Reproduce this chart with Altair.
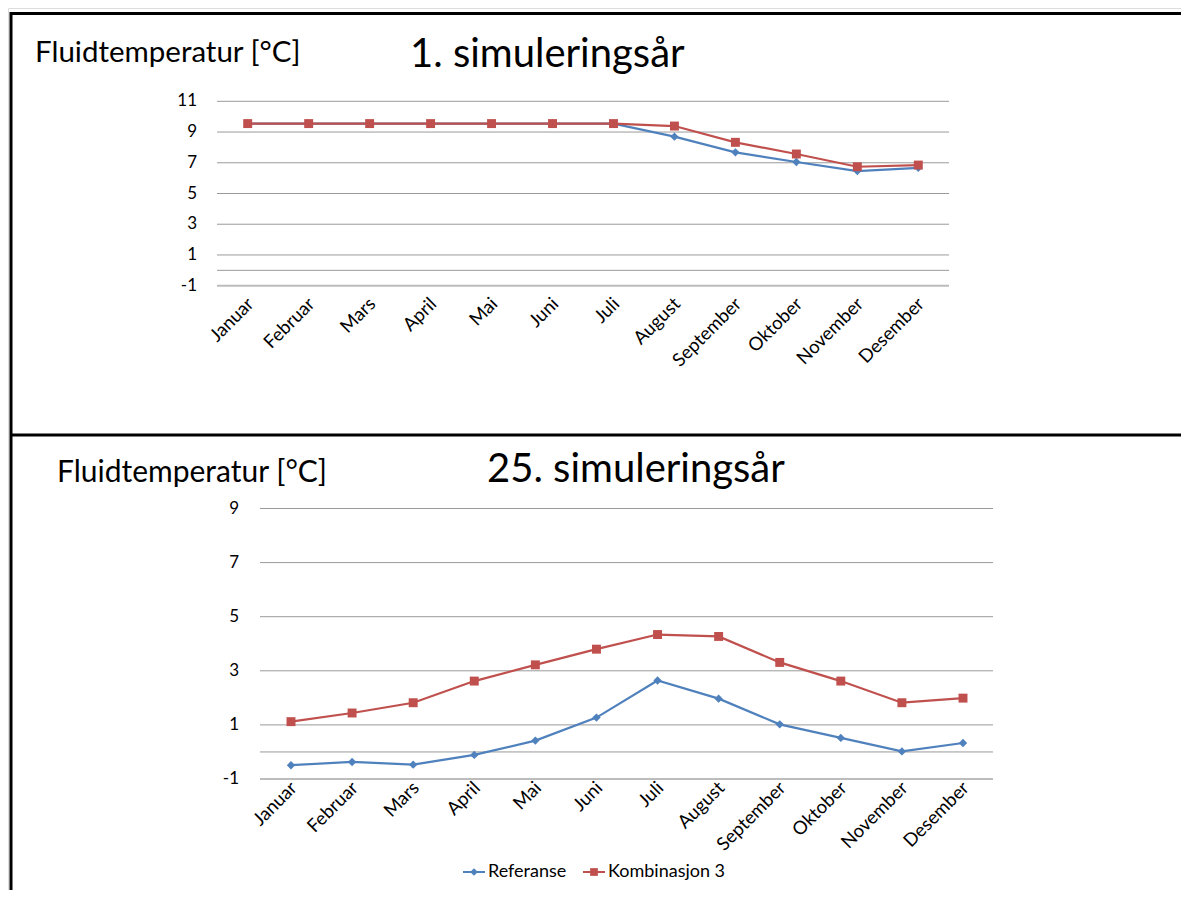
import altair as alt
import pandas as pd

# ---------------- data ----------------
months = ["Januar", "Februar", "Mars", "April", "Mai", "Juni", "Juli",
          "August", "September", "Oktober", "November", "Desember"]
series = ["Referanse", "Kombinasjon 3"]
series_colors = ["#4F81BD", "#C0504D"]
series_shapes = ["diamond", "square"]

year1_referanse = [9.55, 9.55, 9.55, 9.55, 9.55, 9.55, 9.55, 8.70, 7.68, 7.05, 6.46, 6.67]
year1_kombinasjon = [9.55, 9.55, 9.55, 9.55, 9.55, 9.55, 9.55, 9.39, 8.33, 7.57, 6.74, 6.85]
year25_referanse = [-0.49, -0.37, -0.47, -0.11, 0.42, 1.27, 2.64, 1.97, 1.02, 0.52, 0.02, 0.33]
year25_kombinasjon = [1.12, 1.44, 1.82, 2.62, 3.22, 3.80, 4.34, 4.27, 3.31, 2.62, 1.82, 1.99]

ticks_year1 = [-1, 1, 3, 5, 7, 9, 11]
ticks_year25 = [-1, 1, 3, 5, 7, 9]
titles = ["1. simuleringsår", "25. simuleringsår"]
y_title = "Fluidtemperatur [°C]"

FONT = "Lato"


def long_df(ref, komb):
    rows = []
    for s, vals in zip(series, [ref, komb]):
        for m, v in zip(months, vals):
            rows.append({"month": m, "series": s, "value": v})
    return pd.DataFrame(rows)


def panel(ref, komb, ticks, x_range, y_domain, y_range, grid_x, label_x,
          month_y, month_dx, title, title_xy, ytitle_xy, ytitle_size):
    xs = alt.Scale(type="point", domain=months, range=x_range, padding=0)
    ys = alt.Scale(domain=y_domain, range=y_range, nice=False, zero=False)
    df = long_df(ref, komb)
    tick_df = pd.DataFrame({"v": ticks, "label": [str(t) for t in ticks]})
    grid_df = pd.DataFrame({"v": [t for t in ticks if t != y_domain[0]]})
    base_df = pd.DataFrame({"v": [y_domain[0]]})
    zero_df = pd.DataFrame({"v": [0]})

    grid = alt.Chart(grid_df).mark_rule(color="#9a9a9a", strokeWidth=1).encode(
        y=alt.Y("v:Q", scale=ys, axis=None),
        x=alt.value(grid_x[0]), x2=alt.value(grid_x[1]))
    base = alt.Chart(base_df).mark_rule(color="#bcbcbc", strokeWidth=2).encode(
        y=alt.Y("v:Q", scale=ys, axis=None),
        x=alt.value(grid_x[0]), x2=alt.value(grid_x[1]))
    zero = alt.Chart(zero_df).mark_rule(color="#9a9a9a", strokeWidth=1).encode(
        y=alt.Y("v:Q", scale=ys, axis=None),
        x=alt.value(grid_x[0]), x2=alt.value(grid_x[1]))
    ylabels = alt.Chart(tick_df).mark_text(
        align="right", baseline="middle", font=FONT, fontSize=17, color="#000000"
    ).encode(y=alt.Y("v:Q", scale=ys, axis=None), x=alt.value(label_x), text="label:N")

    mlabels = alt.Chart(pd.DataFrame({"month": months})).mark_text(
        align="right", baseline="top", angle=315, dx=month_dx,
        font=FONT, fontSize=18.5, color="#000000"
    ).encode(x=alt.X("month:N", scale=xs, axis=None), y=alt.value(month_y), text="month:N")

    layers = [grid, base, zero, ylabels, mlabels]
    for s, c, sh in zip(series, series_colors, series_shapes):
        sdf = df[df["series"] == s]
        line = alt.Chart(sdf).mark_line(color=c, strokeWidth=2.2).encode(
            x=alt.X("month:N", scale=xs, axis=None, sort=months),
            y=alt.Y("value:Q", scale=ys, axis=None))
        pts = alt.Chart(sdf).mark_point(
            shape=sh, filled=True, color=c, opacity=1,
            size=70 if sh == "diamond" else 80
        ).encode(
            x=alt.X("month:N", scale=xs, axis=None, sort=months),
            y=alt.Y("value:Q", scale=ys, axis=None))
        layers += [line, pts]

    t = alt.Chart(pd.DataFrame({"t": [title]})).mark_text(
        align="left", baseline="alphabetic", font=FONT, fontSize=40, color="#000000"
    ).encode(x=alt.value(title_xy[0]), y=alt.value(title_xy[1]), text="t:N")
    yt = alt.Chart(pd.DataFrame({"t": [y_title]})).mark_text(
        align="left", baseline="alphabetic", font=FONT, fontSize=ytitle_size, color="#000000"
    ).encode(x=alt.value(ytitle_xy[0]), y=alt.value(ytitle_xy[1]), text="t:N")
    layers += [t, yt]
    return alt.layer(*layers)


top = panel(year1_referanse, year1_kombinasjon, ticks_year1,
            x_range=[239.7, 910.3], y_domain=[-1, 11], y_range=[277.7, 93.3],
            grid_x=[209, 941], label_x=189, month_y=283, month_dx=-5,
            title=titles[0], title_xy=(402, 59), ytitle_xy=(27, 54), ytitle_size=29.5)

bottom = panel(year25_referanse, year25_kombinasjon, ticks_year25,
               x_range=[283, 955], y_domain=[-1, 9], y_range=[771, 500.5],
               grid_x=[252, 985], label_x=231, month_y=767, month_dx=-5,
               title=titles[1], title_xy=(479, 474), ytitle_xy=(49, 474), ytitle_size=30)

# legend
leg_df = pd.DataFrame({"series": series})
lx = alt.Scale(type="point", domain=series, range=[466, 586], padding=0)
lc = alt.Scale(domain=series, range=series_colors)
lsh = alt.Scale(domain=series, range=series_shapes)
leg_line = alt.Chart(leg_df).mark_point(shape="M-1,0L1,0", size=484, strokeWidth=2,
                                        filled=False, opacity=1).encode(
    x=alt.X("series:N", scale=lx, axis=None), y=alt.value(864),
    color=alt.Color("series:N", scale=lc, legend=None))
leg_pt = alt.Chart(leg_df).mark_point(filled=True, size=60, opacity=1).encode(
    x=alt.X("series:N", scale=lx, axis=None), y=alt.value(864),
    color=alt.Color("series:N", scale=lc, legend=None),
    shape=alt.Shape("series:N", scale=lsh, legend=None))
leg_txt = alt.Chart(leg_df).mark_text(align="left", baseline="middle", dx=14,
                                      font=FONT, fontSize=18, color="#000000").encode(
    x=alt.X("series:N", scale=lx, axis=None), y=alt.value(864), text="series:N")
legend = alt.layer(leg_line, leg_pt, leg_txt)

# frame lines
frame_df = pd.DataFrame({"k": [0]})
top_line = alt.Chart(frame_df).mark_rule(color="#000000", strokeWidth=3).encode(
    x=alt.value(2), x2=alt.value(1173), y=alt.value(5.5))
mid_line = alt.Chart(frame_df).mark_rule(color="#000000", strokeWidth=3).encode(
    x=alt.value(2), x2=alt.value(1173), y=alt.value(427))
left_line = alt.Chart(frame_df).mark_rule(color="#000000", strokeWidth=3).encode(
    x=alt.value(3), y=alt.value(4), y2=alt.value(882))
frame = alt.layer(top_line, mid_line, left_line)

chart = alt.layer(top, bottom, legend, frame).resolve_scale(
    x="independent", y="independent", color="independent", shape="independent"
).properties(
    width=1173, height=882, padding=0, autosize=alt.AutoSizeParams(type="none")
).configure_view(stroke=None).configure(background="#ffffff")

chart.save("out.html", embed_options={"renderer": "svg", "actions": False})
